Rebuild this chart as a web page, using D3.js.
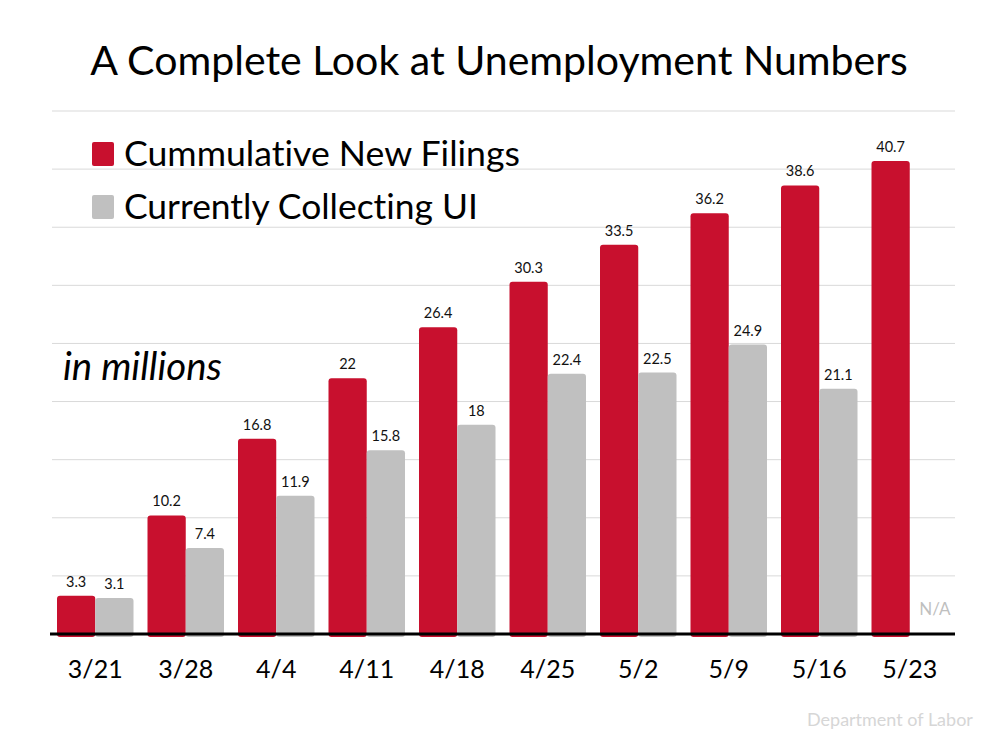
<!DOCTYPE html>
<html>
<head>
<meta charset="utf-8">
<script src="https://cdn.jsdelivr.net/npm/d3@7"></script>
<style>
  html, body { margin: 0; padding: 0; background: #fff; }
  svg { display: block; }
  text { font-family: Lato, "Open Sans", sans-serif; font-variant-ligatures: none; font-feature-settings: "liga" 0, "clig" 0; }
</style>
</head>
<body>
<svg id="chart" width="1000" height="750"></svg>
<script>
const categories = ["3/21", "3/28", "4/4", "4/11", "4/18", "4/25", "5/2", "5/9", "5/16", "5/23"];
const newFilings = [3.3, 10.2, 16.8, 22, 26.4, 30.3, 33.5, 36.2, 38.6, 40.7];
const collectingUI = [3.1, 7.4, 11.9, 15.8, 18, 22.4, 22.5, 24.9, 21.1, null];
const seriesNames = ["Cummulative New Filings", "Currently Collecting UI"];
const seriesColors = ["#C8102E", "#C0C0C0"];
const yTicks = [0, 5, 10, 15, 20, 25, 30, 35, 40, 45];

const svg = d3.select("#chart");

function fitText(sel, targetWidth, base) {
  sel.attr("font-size", base);
  const w = sel.node().getComputedTextLength();
  sel.attr("font-size", base * targetWidth / w);
}

const x = d3.scaleBand().domain(categories).range([50, 955]).paddingInner(0).paddingOuter(0);
const inner = d3.scaleBand().domain([0, 1]).range([7, x.bandwidth() - 7]).padding(0);
const y = d3.scaleLinear().domain([0, 45]).range([634, 111]);

// gridlines
svg.append("g").selectAll("line").data(yTicks.slice(1)).join("line")
  .attr("x1", 52).attr("x2", 955)
  .attr("y1", d => y(d)).attr("y2", d => y(d))
  .attr("stroke", "#d9d9d9").attr("stroke-width", 1);

// title
const title = svg.append("text").attr("x", 499).attr("y", 75)
  .attr("text-anchor", "middle").attr("fill", "#000")
  .text("A Complete Look at Unemployment Numbers");
fitText(title, 818, 36);

// bars
const series = [newFilings, collectingUI];
series.forEach((vals, si) => {
  const g = svg.append("g");
  const data = categories.map((c, i) => ({c, v: vals[i]}));
  g.selectAll("rect").data(data.filter(d => d.v != null)).join("rect")
    .attr("x", d => x(d.c) + inner(si))
    .attr("width", inner.bandwidth())
    .attr("y", d => y(d.v))
    .attr("height", d => y(0) - y(d.v) + 3)
    .attr("rx", 3).attr("ry", 3)
    .attr("fill", seriesColors[si]);
  g.selectAll("text").data(data.filter(d => d.v != null)).join("text")
    .attr("x", d => x(d.c) + inner(si) + inner.bandwidth() / 2)
    .attr("y", d => y(d.v) - 9)
    .attr("text-anchor", "middle")
    .attr("font-size", 14.5)
    .attr("fill", "#111")
    .text(d => d.v);
  g.selectAll("text.na").data(data.filter(d => d.v == null)).join("text")
    .attr("class", "na")
    .attr("x", d => x(d.c) + inner(si) + inner.bandwidth() / 2 + 6)
    .attr("y", 615)
    .attr("text-anchor", "middle")
    .attr("font-size", 17)
    .attr("fill", "#bfbfbf")
    .text("N/A");
});

// baseline
svg.append("line").attr("x1", 50).attr("x2", 955)
  .attr("y1", y(0)).attr("y2", y(0))
  .attr("stroke", "#000").attr("stroke-width", 3);

// x axis labels
const xAxis = d3.axisBottom(x).tickSize(0).tickPadding(0);
const ax = svg.append("g").attr("transform", `translate(0, 678)`).call(xAxis);
ax.select(".domain").remove();
ax.selectAll("text").attr("dy", 0).attr("font-size", 25).attr("fill", "#000")
  .attr("font-family", "Lato, 'Open Sans', sans-serif");

// legend
seriesNames.forEach((name, i) => {
  const yy = 142 + i * 53;
  svg.append("rect").attr("x", 92).attr("y", yy).attr("width", 22).attr("height", 24)
    .attr("rx", 2).attr("fill", seriesColors[i]);
  const t = svg.append("text").attr("x", 124).attr("y", yy + 24).attr("fill", "#000").text(name);
  fitText(t, i === 0 ? 396 : 354, 32);
});

// in millions
const im = svg.append("text").attr("x", 63).attr("y", 380)
  .attr("font-style", "italic").attr("fill", "#000").text("in millions");
fitText(im, 159, 30);

// source
const src = svg.append("text").attr("x", 807).attr("y", 726)
  .attr("fill", "#d6d6d6").text("Department of Labor");
fitText(src, 166, 15);
</script>
</body>
</html>
